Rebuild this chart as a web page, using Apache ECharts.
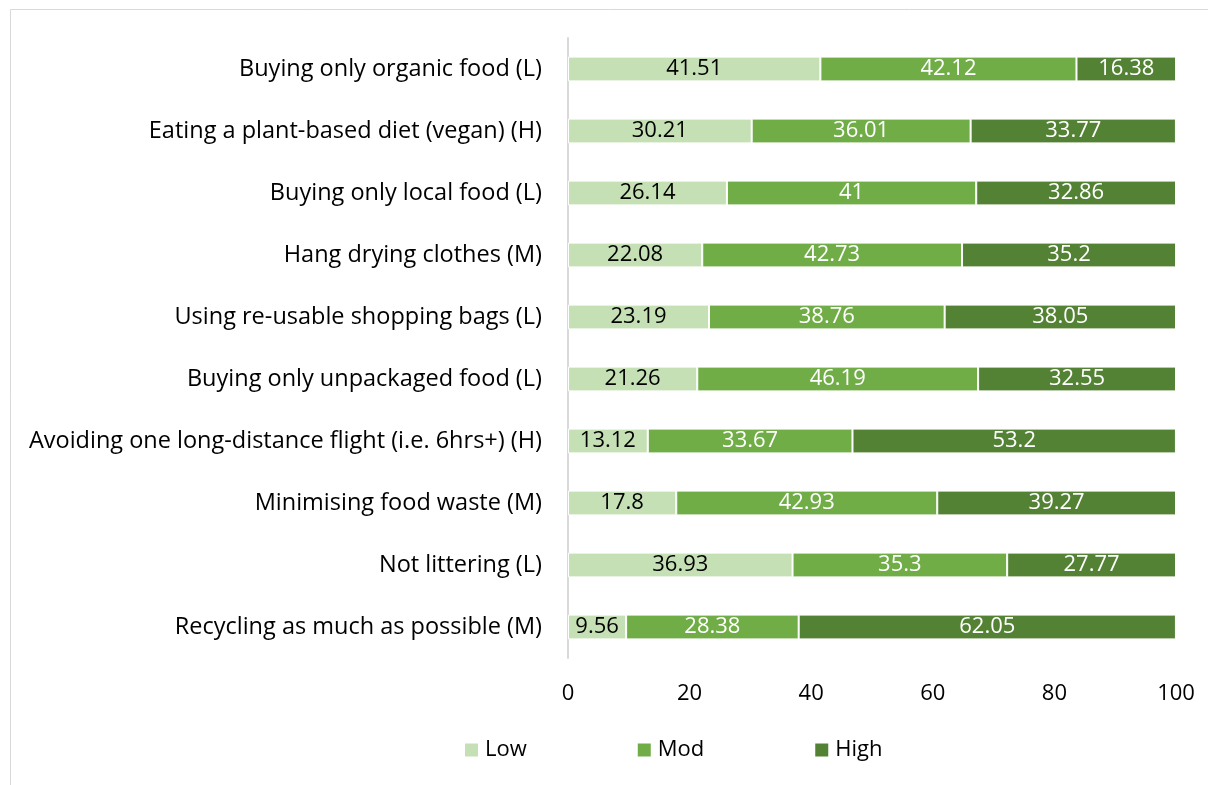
<!DOCTYPE html>
<html><head><meta charset="utf-8">
<script src="https://cdn.jsdelivr.net/npm/echarts@6/dist/echarts.min.js"></script>
<style>html,body{margin:0;padding:0;background:#fff}#c{width:1208px;height:785px}</style>
</head><body><div id="c"></div>
<script>
const categories = [
  "Buying only organic food (L)",
  "Eating a plant-based diet (vegan) (H)",
  "Buying only local food (L)",
  "Hang drying clothes (M)",
  "Using re-usable shopping bags (L)",
  "Buying only unpackaged food (L)",
  "Avoiding one long-distance flight (i.e. 6hrs+) (H)",
  "Minimising food waste (M)",
  "Not littering (L)",
  "Recycling as much as possible (M)"
];
const lowValues  = [41.51, 30.21, 26.14, 22.08, 23.19, 21.26, 13.12, 17.8, 36.93, 9.56];
const modValues  = [42.12, 36.01, 41, 42.73, 38.76, 46.19, 33.67, 42.93, 35.3, 28.38];
const highValues = [16.38, 33.77, 32.86, 35.2, 38.05, 32.55, 53.2, 39.27, 27.77, 62.05];
const xTicks = [0, 20, 40, 60, 80, 100];

const FONT = 'Open Sans';
const FS = 22;
const chart = echarts.init(document.getElementById('c'));
function mk(name, data, color, labelColor) {
  return {
    name, type: 'bar', stack: 'all', data, barCategoryGap: '60%',
    itemStyle: { color, borderColor: '#fff', borderWidth: 1 },
    label: { show: true, position: 'inside', color: labelColor, fontFamily: FONT, fontSize: FS },
    emphasis: { disabled: true }
  };
}
chart.setOption({
  animation: false,
  textStyle: { fontFamily: FONT },
  graphic: [{ type: 'rect', shape: { x: 10.5, y: 9.5, width: 1300, height: 900 },
    style: { fill: 'none', stroke: '#D9D9D9', lineWidth: 1 } }],
  grid: { left: 568, right: 32, top: 38, bottom: 127 },
  legend: {
    top: 739, left: 463, itemWidth: 15, itemHeight: 15, itemGap: 109,
    icon: 'rect', padding: 0,
    textStyle: { fontFamily: FONT, fontSize: FS, color: '#000', padding: [0, 0, 0, 1] },
    data: ['Low', 'Mod', 'High']
  },
  xAxis: {
    type: 'value', min: xTicks[0], max: xTicks[xTicks.length - 1], interval: 20,
    axisLine: { show: false }, axisTick: { show: false }, splitLine: { show: false },
    axisLabel: { color: '#000', fontSize: FS, fontFamily: FONT, margin: 25,
      customValues: xTicks }
  },
  yAxis: {
    type: 'category', data: categories, inverse: true,
    axisLine: { show: true, lineStyle: { color: '#D9D9D9', width: 2 } },
    axisTick: { show: false },
    axisLabel: { color: '#000', fontSize: 23.5, fontFamily: FONT, margin: 26 }
  },
  series: [
    mk('Low', lowValues, '#C5E0B4', '#000'),
    mk('Mod', modValues, '#70AD47', '#fff'),
    mk('High', highValues, '#548235', '#fff')
  ]
});
</script></body></html>
